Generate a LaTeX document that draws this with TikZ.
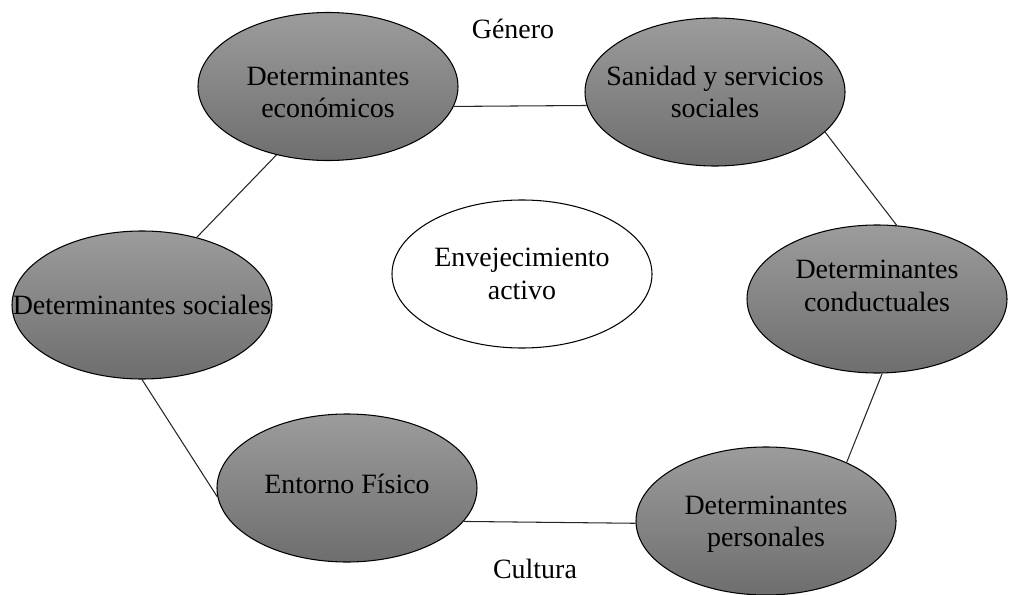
\documentclass[tikz,border=0pt]{standalone}
\usepackage{fontspec}
\setmainfont{Liberation Serif}
\usetikzlibrary{shapes.geometric}
\definecolor{blobtop}{HTML}{9C9C9C}
\definecolor{blobbot}{HTML}{6E6E6E}

\begin{document}
\begin{tikzpicture}[
  blob/.style={draw, ellipse, line width=0.6pt, minimum width=5.2cm, minimum height=2.96cm, inner sep=0pt, top color=blobtop, bottom color=blobbot},
  core/.style={draw, ellipse, line width=0.6pt, minimum width=5.2cm, minimum height=2.96cm, inner sep=0pt, fill=white},
  conn/.style={black!85, line width=0.6pt},
  every label/.append style={align=center, font=\fontsize{15.9}{18.4}\selectfont, text=black},
  tag/.style={font=\fontsize{15.9}{18.4}\selectfont, anchor=base},
]

\useasboundingbox (0,0) rectangle (20.2,11.88);

\node (econ) [blob, label={[yshift=-0.12cm]center:{Determinantes\\económicos}}] at (6.56, 10.15) {};
\node (sanidad) [blob, label=center:{Sanidad y servicios\\sociales}] at (14.30, 10.04) {};
\node (cond) [blob, label={[yshift=0.26cm]center:{Determinantes\\conductuales}}] at (17.54, 5.90) {};
\node (pers) [blob, label={[yshift=-0.06cm]center:{Determinantes\\personales}}] at (15.32, 1.46) {};
\node (ent) [blob, label={[yshift=0.08cm]center:{Entorno Físico}}] at (6.94, 2.12) {};
\node (soc) [blob, label=center:{Determinantes sociales}] at (2.84, 5.78) {};

\node (activo) [core, label=center:{Envejecimiento\\activo}] at (10.44, 6.40) {};

\node (genero) [tag] at (10.26, 11.10) {Género};
\node (cultura) [tag] at (10.70, 0.32) {Cultura};

\foreach \a/\b in {econ.-9.5/sanidad.186, sanidad.-20/cond.75, cond.-86/pers.36,
                   pers.181/ent.-16, ent.184/soc.south, soc.51/econ.233} {
  \draw[conn] (\a) -- (\b);
}
\end{tikzpicture}
\end{document}
